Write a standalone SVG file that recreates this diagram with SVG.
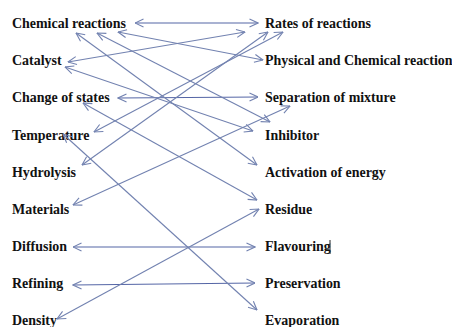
<svg xmlns="http://www.w3.org/2000/svg" width="452" height="327" viewBox="0 0 452 327">
  <style>
    .lbl { font-family: "Liberation Serif", "Times New Roman", serif; font-weight: bold; font-size: 15.5px; fill: #111; }
    .link { fill: none; stroke: #7282b0; stroke-width: 1.1; marker-start: url(#tip); marker-end: url(#tip); }
    .link.h { stroke: #5566a6; }
  </style>
  <defs>
    <marker id="tip" viewBox="0 0 10 10" refX="9.5" refY="5" markerWidth="10" markerHeight="10" markerUnits="userSpaceOnUse" orient="auto-start-reverse">
      <path d="M1,1 L9.5,5 L1,9" fill="none" stroke="#7282b0" stroke-width="1.1"/>
    </marker>
  </defs>
  <rect width="452" height="327" fill="#ffffff"/>

  <!-- left column (labels are slightly condensed horizontally) -->
  <g id="chemical-reactions"><text class="lbl" transform="translate(12,28) scale(0.9,1)">Chemical reactions</text></g>
  <g id="catalyst"><text class="lbl" transform="translate(12,65) scale(0.9,1)">Catalyst</text></g>
  <g id="change-of-states"><text class="lbl" transform="translate(12,102) scale(0.9,1)">Change of states</text></g>
  <g id="temperature"><text class="lbl" transform="translate(12,139.5) scale(0.9,1)">Temperature</text></g>
  <g id="hydrolysis"><text class="lbl" transform="translate(12,176.5) scale(0.9,1)">Hydrolysis</text></g>
  <g id="materials"><text class="lbl" transform="translate(12,213.5) scale(0.9,1)">Materials</text></g>
  <g id="diffusion"><text class="lbl" transform="translate(12,251) scale(0.9,1)">Diffusion</text></g>
  <g id="refining"><text class="lbl" transform="translate(12,288) scale(0.9,1)">Refining</text></g>
  <g id="density"><text class="lbl" transform="translate(12,325) scale(0.9,1)">Density</text></g>

  <!-- right column -->
  <g id="rates-of-reactions"><text class="lbl" transform="translate(265,28) scale(0.9,1)">Rates of reactions</text></g>
  <g id="physical-and-chemical-reaction"><text class="lbl" transform="translate(265,65) scale(0.9,1)">Physical and Chemical reaction</text></g>
  <g id="separation-of-mixture"><text class="lbl" transform="translate(265,102) scale(0.9,1)">Separation of mixture</text></g>
  <g id="inhibitor"><text class="lbl" transform="translate(265,139.5) scale(0.9,1)">Inhibitor</text></g>
  <g id="activation-of-energy"><text class="lbl" transform="translate(265,176.5) scale(0.9,1)">Activation of energy</text></g>
  <g id="residue"><text class="lbl" transform="translate(265,213.5) scale(0.9,1)">Residue</text></g>
  <g id="flavouring"><text class="lbl" transform="translate(265,251) scale(0.9,1)">Flavouring</text><line x1="330" y1="240" x2="330" y2="254" stroke="#222" stroke-width="1"/></g>
  <g id="preservation"><text class="lbl" transform="translate(265,288) scale(0.9,1)">Preservation</text></g>
  <g id="evaporation"><text class="lbl" transform="translate(265,325) scale(0.9,1)">Evaporation</text></g>

  <!-- connectors -->
  <g id="connectors">
    <line class="link h" x1="135" y1="23" x2="258" y2="23"/>
    <line class="link h" x1="118" y1="98" x2="258" y2="97"/>
    <line class="link h" x1="73" y1="247" x2="255" y2="247"/>
    <line class="link h" x1="73" y1="285" x2="255" y2="283"/>
    <line class="link" x1="76" y1="33" x2="257" y2="165"/>
    <line class="link" x1="97" y1="33" x2="270" y2="122"/>
    <line class="link" x1="118" y1="32" x2="263" y2="60"/>
    <line class="link" x1="68" y1="62" x2="245" y2="32"/>
    <line class="link" x1="65" y1="67" x2="253" y2="131"/>
    <line class="link" x1="83" y1="103" x2="257" y2="200"/>
    <line class="link" x1="63" y1="134" x2="257" y2="310"/>
    <line class="link" x1="94" y1="132" x2="283" y2="32"/>
    <line class="link" x1="82" y1="165" x2="268" y2="32"/>
    <line class="link" x1="73" y1="205" x2="290" y2="106"/>
    <line class="link" x1="57" y1="319" x2="259" y2="209"/>
  </g>
</svg>
